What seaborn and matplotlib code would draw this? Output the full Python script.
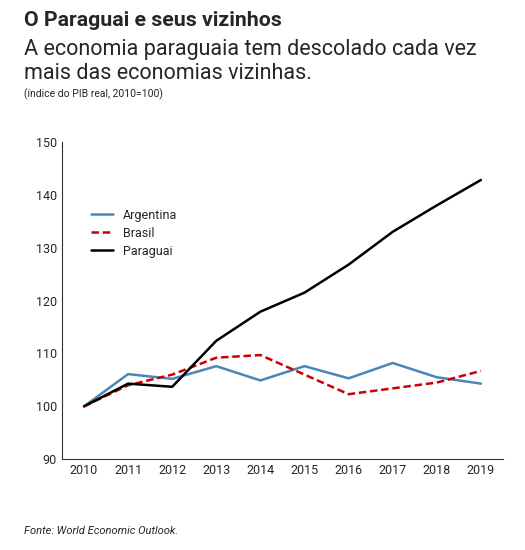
import matplotlib
matplotlib.use('Agg')
import matplotlib.pyplot as plt
import seaborn as sns
import pandas as pd

years = [2010, 2011, 2012, 2013, 2014, 2015, 2016, 2017, 2018, 2019]
argentina = [100, 106.1, 105.2, 107.6, 104.9, 107.6, 105.3, 108.2, 105.5, 104.3]
brasil = [100, 104.0, 106.0, 109.2, 109.7, 106.0, 102.3, 103.4, 104.5, 106.7]
paraguai = [100, 104.3, 103.7, 112.4, 117.9, 121.5, 126.8, 133.0, 138.0, 142.8]

df = pd.DataFrame({'Ano': years * 3,
                   'Valor': argentina + brasil + paraguai,
                   'País': ['Argentina'] * 10 + ['Brasil'] * 10 + ['Paraguai'] * 10})

sns.set_style('white')
plt.rcParams['font.family'] = ['Roboto', 'DejaVu Sans']

fig = plt.figure(figsize=(5.25, 5.5), dpi=100)
ax = fig.add_axes([0.118, 0.165, 0.84, 0.577])

sns.lineplot(data=df, x='Ano', y='Valor', hue='País', style='País',
             palette={'Argentina': '#4a86b8', 'Brasil': '#cc0000', 'Paraguai': '#000000'},
             dashes={'Argentina': '', 'Brasil': (3, 1.5), 'Paraguai': ''},
             linewidth=1.8, ax=ax)

ax.set_xlim(2009.5, 2019.5)
ax.set_ylim(90, 150)
ax.set_xticks(years)
ax.set_yticks(range(90, 151, 10))
ax.tick_params(labelsize=9, length=0)
ax.set_xlabel('')
ax.set_ylabel('')
for s in ax.spines.values():
    s.set_color('#333333')
    s.set_linewidth(0.8)
for s in ['top', 'right']:
    ax.spines[s].set_visible(False)

leg = ax.legend(loc='upper left', bbox_to_anchor=(0.04, 0.825), frameon=False, fontsize=9,
                handlelength=1.8, labelspacing=0.4)

fig.text(0.045, 0.952, 'O Paraguai e seus vizinhos', fontsize=15.3, fontweight='bold')
fig.text(0.045, 0.9, 'A economia paraguaia tem descolado cada vez', fontsize=15.5)
fig.text(0.045, 0.857, 'mais das economias vizinhas.', fontsize=15.5)
fig.text(0.045, 0.823, '(índice do PIB real, 2010=100)', fontsize=7.5)
fig.text(0.045, 0.03, 'Fonte: World Economic Outlook.', fontsize=8, style='italic')

fig.savefig('out.png', dpi=100)
